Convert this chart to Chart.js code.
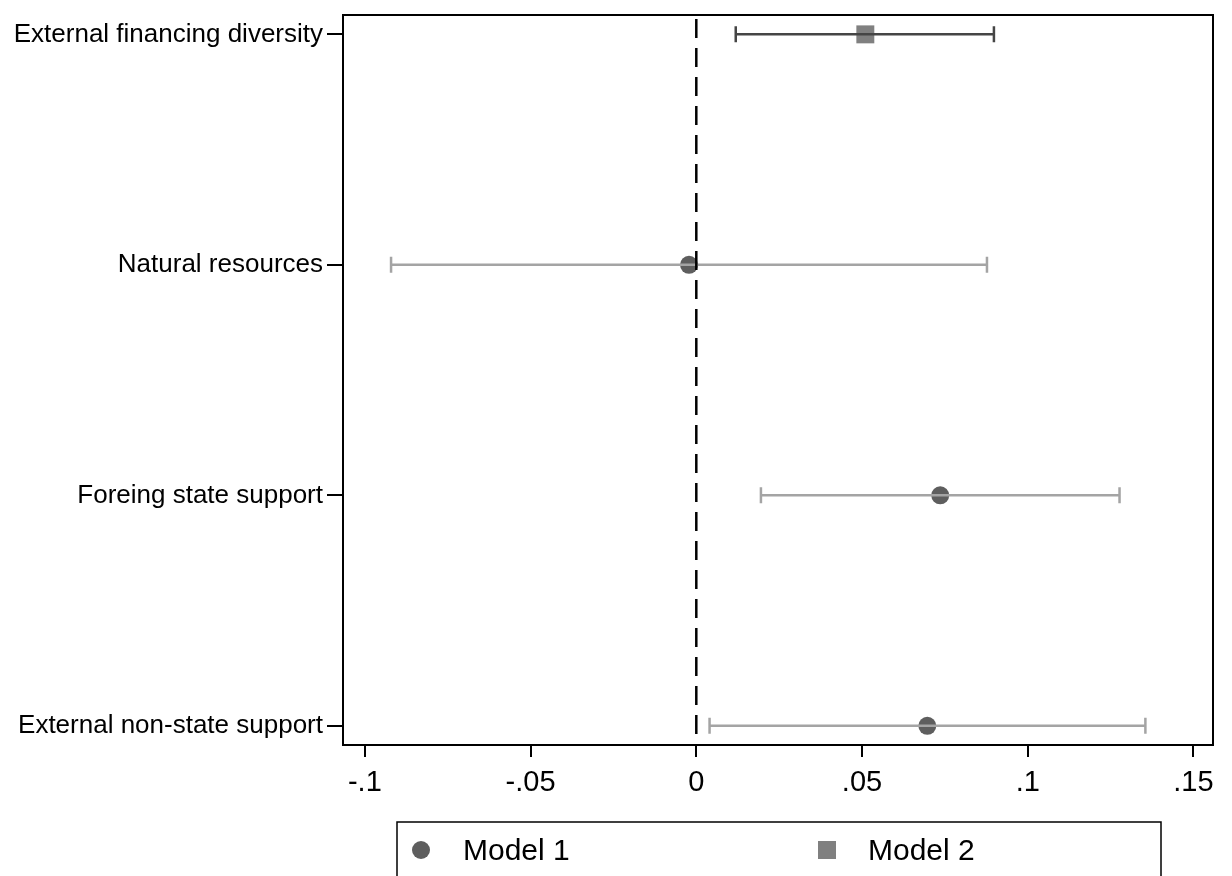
<!DOCTYPE html>
<html>
<head>
<meta charset="utf-8">
<script src="https://cdn.jsdelivr.net/npm/chart.js@4.4.1/dist/chart.umd.min.js"></script>
<style>
  html, body { margin: 0; padding: 0; background: #fff; }
  .chart-size { position: relative; width: 1232px; height: 876px; }
</style>
</head>
<body>
<div class="chart-size">
  <canvas id="chart" width="1232" height="876"></canvas>
</div>
<script>
// data
const categories = ['External financing diversity', 'Natural resources', 'Foreing state support', 'External non-state support'];
const model1Est = [null, -0.0022, 0.0736, 0.0697];
const model1Lo  = [null, -0.0921, 0.0195, 0.0040];
const model1Hi  = [null,  0.0877, 0.1277, 0.1355];
const model2Est = [0.0510, null, null, null];
const model2Lo  = [0.0119, null, null, null];
const model2Hi  = [0.0898, null, null, null];
const xTickValues = [-0.1, -0.05, 0, 0.05, 0.1, 0.15];
const xTickLabels = ['-.1', '-.05', '0', '.05', '.1', '.15'];

const FONT = "'Liberation Sans', Arial, Helvetica, sans-serif";

function toPoints(est) {
  return est.map((v, i) => v === null ? null : { x: v, y: i }).filter(p => p);
}

const series = [
  { label: 'Model 1', est: model1Est, lo: model1Lo, hi: model1Hi, marker: '#5e5e5e', bar: '#a4a4a4', style: 'circle', radius: 9 },
  { label: 'Model 2', est: model2Est, lo: model2Lo, hi: model2Hi, marker: '#808080', bar: '#454545', style: 'rect', radius: 12.7 }
];

// error bars + zero line, drawn through the scales
const ciPlugin = {
  id: 'ci',
  afterDatasetsDraw(chart) {
    const ctx = chart.ctx;
    const xs = chart.scales.x, ys = chart.scales.y;
    ctx.save();
    series.forEach(s => {
      ctx.strokeStyle = s.bar;
      ctx.lineWidth = 2.5;
      s.est.forEach((v, i) => {
        if (v === null) return;
        const y = ys.getPixelForValue(i);
        const x1 = xs.getPixelForValue(s.lo[i]);
        const x2 = xs.getPixelForValue(s.hi[i]);
        ctx.beginPath();
        ctx.moveTo(x1, y); ctx.lineTo(x2, y);
        ctx.moveTo(x1, y - 8); ctx.lineTo(x1, y + 8);
        ctx.moveTo(x2, y - 8); ctx.lineTo(x2, y + 8);
        ctx.stroke();
      });
    });
    // zero reference line
    const x0 = xs.getPixelForValue(0);
    ctx.strokeStyle = '#000';
    ctx.lineWidth = 2.5;
    ctx.setLineDash([19, 10]);
    ctx.beginPath();
    ctx.moveTo(x0, chart.chartArea.top + 4);
    ctx.lineTo(x0, chart.chartArea.bottom);
    ctx.stroke();
    ctx.setLineDash([]);
    // plot frame
    const a = chart.chartArea;
    ctx.lineWidth = 2;
    ctx.strokeRect(a.left, a.top, a.right - a.left, a.bottom - a.top);
    ctx.restore();
  },
  afterDraw(chart) {
    // legend box under the plot
    const ctx = chart.ctx;
    ctx.save();
    ctx.strokeStyle = '#000';
    ctx.lineWidth = 1.5;
    ctx.strokeRect(397, 822, 764, 80);
    const items = [{ s: series[0], mx: 421, tx: 463 }, { s: series[1], mx: 827, tx: 868 }];
    items.forEach(it => {
      ctx.fillStyle = it.s.marker;
      if (it.s.style === 'circle') {
        ctx.beginPath();
        ctx.arc(it.mx, 850, 9, 0, Math.PI * 2);
        ctx.fill();
      } else {
        ctx.fillRect(it.mx - 9, 841, 18, 18);
      }
      ctx.fillStyle = '#000';
      ctx.font = '30px ' + FONT;
      ctx.textBaseline = 'middle';
      ctx.fillText(it.s.label, it.tx, 852);
    });
    ctx.restore();
  }
};

const config = {
  type: 'scatter',
  data: {
    datasets: series.map(s => ({
      label: s.label,
      data: toPoints(s.est),
      pointStyle: s.style,
      pointRadius: s.radius,
      pointHoverRadius: s.radius,
      backgroundColor: s.marker,
      borderColor: s.marker,
      borderWidth: 0
    }))
  },
  options: {
    responsive: false,
    animation: false,
    layout: { padding: { top: 15, right: 19, left: 0, bottom: 0 } },
    plugins: { legend: { display: false }, tooltip: { enabled: false } },
    scales: {
      x: {
        type: 'linear',
        min: -0.1066,
        max: 0.1559,
        afterBuildTicks: scale => { scale.ticks = xTickValues.map(v => ({ value: v })); },
        afterFit: scale => { scale.height = 131; scale.paddingLeft = 0; scale.paddingRight = 0; },
        grid: { drawOnChartArea: false, tickLength: 12, color: '#000', lineWidth: 2 },
        border: { display: false },
        ticks: {
          color: '#000',
          font: { family: FONT, size: 29 },
          padding: 9,
          maxRotation: 0,
          autoSkip: false,
          callback: (v, i) => xTickLabels[i]
        }
      },
      y: {
        type: 'linear',
        reverse: true,
        min: -0.084,
        max: 3.083,
        afterBuildTicks: scale => { scale.ticks = categories.map((c, i) => ({ value: i })); },
        afterFit: scale => { scale.width = 343; scale.paddingTop = 0; scale.paddingBottom = 0; },
        grid: { drawOnChartArea: false, tickLength: 16, color: '#000', lineWidth: 2 },
        border: { display: false },
        ticks: {
          color: '#000',
          font: { family: FONT, size: 26 },
          padding: 4,
          autoSkip: false,
          callback: (v, i) => categories[i]
        }
      }
    }
  },
  plugins: [ciPlugin]
};

new Chart(document.getElementById('chart'), config);
</script>
</body>
</html>
